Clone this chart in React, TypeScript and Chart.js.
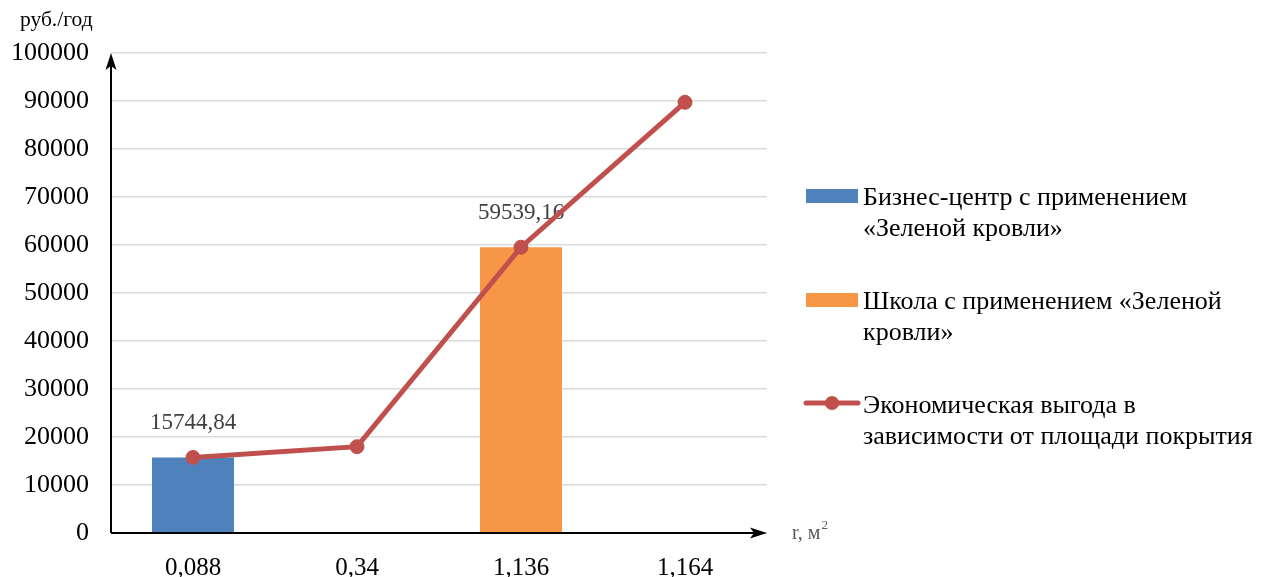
import React, { useEffect, useRef } from "react";
import { Chart, registerables } from "chart.js";

Chart.register(...registerables);

const categories = ["0,088", "0,34", "1,136", "1,164"];
const businessValues = [15744.84, null, null, null];
const schoolValues = [null, null, 59539.16, null];
const benefitValues = [15744.84, 17980, 59539.16, 89730];
const yTicks = [0, 10000, 20000, 30000, 40000, 50000, 60000, 70000, 80000, 90000, 100000];
const legendItems = [
  { lines: ["Бизнес-центр с применением", "«Зеленой кровли»"], color: "#4F81BD", type: "bar" },
  { lines: ["Школа с применением «Зеленой", "кровли»"], color: "#F79646", type: "bar" },
  { lines: ["Экономическая выгода в", "зависимости от площади покрытия"], color: "#C0504D", type: "line" },
];
const yTitle = "руб./год";
const xTitle = "r, м";

const FONT = "'Liberation Serif', 'Times New Roman', serif";

const decorPlugin = {
  id: "decor",
  beforeDatasetsDraw(chart: any) {
    const ctx = chart.ctx;
    ctx.save();
    ctx.font = `23px ${FONT}`;
    ctx.fillStyle = "#404040";
    ctx.textAlign = "center";
    ctx.textBaseline = "middle";
    [0, 1].forEach((di) => {
      const meta = chart.getDatasetMeta(di);
      const ds = chart.data.datasets[di];
      meta.data.forEach((el: any, i: number) => {
        const v = ds.data[i];
        if (v == null) return;
        const txt = Number(v).toFixed(2).replace(".", ",");
        ctx.fillText(txt, el.x, el.y - 34);
      });
    });
    ctx.restore();
  },
  afterDraw(chart: any) {
    const ctx = chart.ctx;
    const { left, right, top, bottom } = chart.chartArea;
    ctx.save();
    // axes
    ctx.strokeStyle = "#000";
    ctx.fillStyle = "#000";
    ctx.lineWidth = 2;
    ctx.beginPath();
    ctx.moveTo(left, bottom);
    ctx.lineTo(left, top + 12);
    ctx.moveTo(left, bottom);
    ctx.lineTo(right - 12, bottom);
    ctx.stroke();
    // arrowheads
    ctx.beginPath();
    ctx.moveTo(left, top);
    ctx.lineTo(left - 5.5, top + 17);
    ctx.lineTo(left, top + 13);
    ctx.lineTo(left + 5.5, top + 17);
    ctx.closePath();
    ctx.fill();
    ctx.beginPath();
    ctx.moveTo(right, bottom);
    ctx.lineTo(right - 17, bottom - 5.5);
    ctx.lineTo(right - 13, bottom);
    ctx.lineTo(right - 17, bottom + 5.5);
    ctx.closePath();
    ctx.fill();
    // axis titles
    ctx.textBaseline = "middle";
    ctx.textAlign = "left";
    ctx.font = `21.5px ${FONT}`;
    ctx.fillStyle = "#000";
    ctx.fillText(yTitle, 20, 20);
    ctx.font = `20px ${FONT}`;
    ctx.fillStyle = "#595959";
    ctx.fillText(xTitle, 792, 534);
    const w = ctx.measureText(xTitle).width;
    ctx.font = `13px ${FONT}`;
    ctx.fillText("2", 792 + w + 1, 526);
    // legend
    const starts = [198, 302, 406];
    ctx.font = `26px ${FONT}`;
    legendItems.forEach((item, idx) => {
      const y0 = starts[idx];
      if (item.type === "bar") {
        ctx.fillStyle = item.color;
        ctx.fillRect(806, y0 - 9, 52, 14);
      } else {
        ctx.strokeStyle = item.color;
        ctx.lineWidth = 5;
        ctx.lineCap = "round";
        ctx.beginPath();
        ctx.moveTo(806, y0 - 3);
        ctx.lineTo(858, y0 - 3);
        ctx.stroke();
        ctx.fillStyle = item.color;
        ctx.beginPath();
        ctx.arc(832, y0 - 3, 7, 0, Math.PI * 2);
        ctx.fill();
      }
      ctx.fillStyle = "#000";
      ctx.textAlign = "left";
      item.lines.forEach((ln, li) => {
        ctx.fillText(ln, 863, y0 + li * 31);
      });
    });
    ctx.restore();
  },
};

export default function App() {
  const ref = useRef<HTMLCanvasElement | null>(null);
  useEffect(() => {
    if (!ref.current) return;
    const chart = new Chart(ref.current, {
      type: "bar",
      data: {
        labels: categories,
        datasets: [
          {
            type: "bar",
            label: legendItems[0].lines.join(" "),
            data: businessValues as any,
            backgroundColor: "#4F81BD",
            grouped: false,
            barPercentage: 0.5,
            categoryPercentage: 1,
            order: 2,
          },
          {
            type: "bar",
            label: legendItems[1].lines.join(" "),
            data: schoolValues as any,
            backgroundColor: "#F79646",
            grouped: false,
            barPercentage: 0.5,
            categoryPercentage: 1,
            order: 1,
          },
          {
            type: "line",
            label: legendItems[2].lines.join(" "),
            data: benefitValues,
            borderColor: "#C0504D",
            backgroundColor: "#C0504D",
            borderWidth: 5,
            pointRadius: 7,
            pointBackgroundColor: "#C0504D",
            pointBorderColor: "#C0504D",
            pointBorderWidth: 1,
            tension: 0,
            order: 0,
          } as any,
        ],
      },
      options: {
        responsive: false,
        animation: false,
        layout: { padding: { top: 53, right: 497, left: 0, bottom: 0 } },
        plugins: { legend: { display: false }, tooltip: { enabled: false } },
        scales: {
          x: {
            grid: { display: false },
            border: { display: false },
            ticks: { color: "#000", font: { family: FONT, size: 25 }, padding: 12 },
            afterFit: (s: any) => { s.height = 44; },
          },
          y: {
            min: 0,
            max: 100000,
            afterBuildTicks: (s: any) => { s.ticks = yTicks.map((v) => ({ value: v })); },
            grid: { color: "#d9d9d9", lineWidth: 1.5, drawTicks: false },
            border: { display: false },
            ticks: { color: "#000", font: { family: FONT, size: 26 }, padding: 22, callback: (v: any) => String(v) },
            afterFit: (s: any) => { s.width = 111; },
          },
        },
      },
      plugins: [decorPlugin],
    });
    return () => chart.destroy();
  }, []);
  return (
    <div style={{ position: "fixed", left: 0, top: 0, width: 1264, height: 577, background: "#fff" }}>
      <canvas ref={ref} width={1264} height={577} />
    </div>
  );
}
